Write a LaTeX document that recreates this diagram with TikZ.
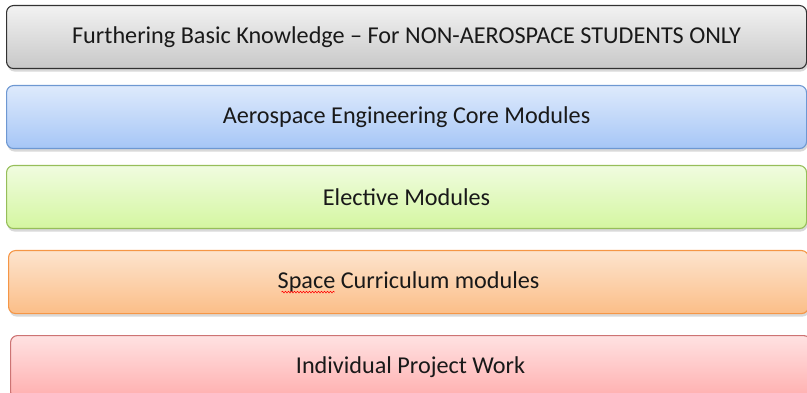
\documentclass[tikz,border=0pt]{standalone}
\usepackage{fontspec}
\setmainfont{Carlito}
\usetikzlibrary{shadows, decorations.pathmorphing}

\definecolor{basictop}{RGB}{242,242,242}
\definecolor{basicbot}{RGB}{200,200,200}
\definecolor{basicline}{RGB}{50,50,50}
\definecolor{coretop}{RGB}{222,234,252}
\definecolor{corebot}{RGB}{166,198,246}
\definecolor{coreline}{RGB}{110,152,210}
\definecolor{electop}{RGB}{240,252,224}
\definecolor{elecbot}{RGB}{212,246,160}
\definecolor{elecline}{RGB}{150,190,90}
\definecolor{spacetop}{RGB}{253,228,206}
\definecolor{spacebot}{RGB}{251,190,136}
\definecolor{spaceline}{RGB}{245,150,70}
\definecolor{projtop}{RGB}{255,226,226}
\definecolor{projbot}{RGB}{255,174,174}
\definecolor{projline}{RGB}{205,115,115}
\definecolor{bandtext}{RGB}{25,25,25}

\begin{document}
\begin{tikzpicture}[
        x=1pt, y=1pt,
        band/.style={rectangle, rounded corners=7pt, line width=1.1pt, minimum width=800pt, minimum height=63pt,
                     anchor=north west, font=\fontsize{24.2}{28}\selectfont, text=bandtext,
                     drop shadow={shadow xshift=1pt, shadow yshift=-3pt, opacity=0.3}},
        basic/.style={band, draw=basicline, top color=basictop, bottom color=basicbot},
        core/.style={band, draw=coreline, top color=coretop, bottom color=corebot},
        elective/.style={band, draw=elecline, top color=electop, bottom color=elecbot},
        space/.style={band, draw=spaceline, top color=spacetop, bottom color=spacebot},
        project/.style={band, draw=projline, top color=projtop, bottom color=projbot},
        squiggle/.style={red, line width=0.6pt, decorate, decoration={snake, amplitude=0.8pt, segment length=3pt}}
    ]

    \useasboundingbox (0,0) rectangle (807,-393);

    % Grundlagen
    \node[basic] (basic) at (6,-5) {Furthering Basic Knowledge -- For NON-AEROSPACE STUDENTS ONLY};

    % Pflichtmodule
    \node[core] (core) at (6,-85) {Aerospace Engineering Core Modules};

    % Wahlmodule
    \node[elective] (elective) at (6,-165) {Elective Modules};

    % Raumfahrt
    \node[space] (space) at (8,-250) {Space Curriculum modules};
    \draw[squiggle] ([xshift=-127pt, yshift=-10pt]space.center) -- ([xshift=-74pt, yshift=-10pt]space.center);

    % Projektarbeit
    \node[project] (project) at (10,-335) {Individual Project Work};

\end{tikzpicture}
\end{document}
